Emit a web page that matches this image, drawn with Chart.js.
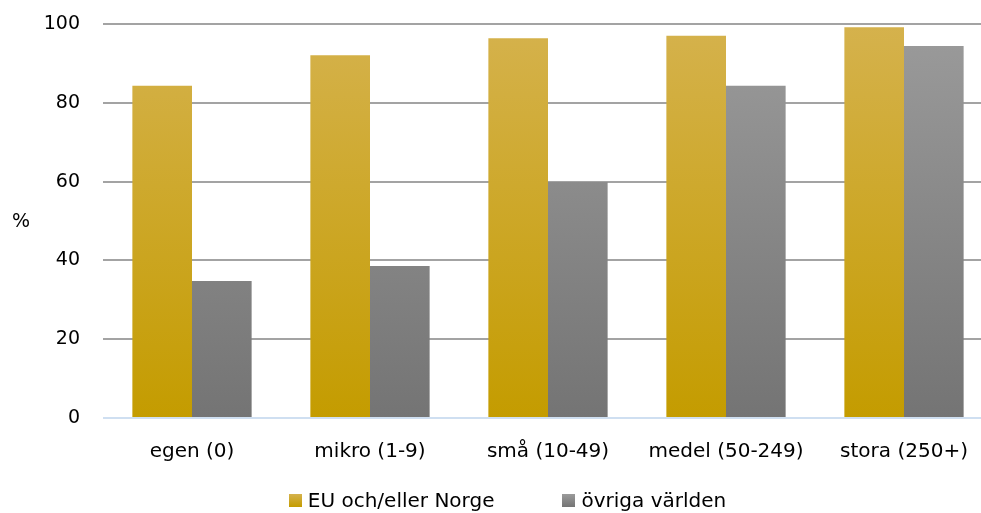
<!DOCTYPE html>
<html lang="sv">
<head>
  <meta charset="UTF-8">
  <title>Företag efter storlek</title>
  <script src="https://cdn.jsdelivr.net/npm/chart.js"></script>
  <style>
    html, body { margin: 0; padding: 0; background: #fff; overflow: hidden; }
    .wrap { position: relative; width: 981px; height: 513px; overflow: hidden; }
    #legend {
      position: absolute; left: 34px; right: 0; top: 488px;
      display: flex; justify-content: center; gap: 68px;
      font-family: "DejaVu Sans", sans-serif; font-size: 20px; color: #000;
    }
    #legend span.item { display: flex; align-items: center; }
    #legend i { display: inline-block; width: 13px; height: 13px; margin-right: 6px; }
  </style>
</head>
<body>
  <div class="wrap">
    <!-- plot runs a bit past the right edge, as in the original -->
    <canvas id="chart" width="993" height="513"></canvas>
    <div id="legend"></div>
  </div>

  <script>
    const categories = ["egen (0)", "mikro (1-9)", "små (10-49)", "medel (50-249)", "stora (250+)"];
    const seriesNames = ["EU och/eller Norge", "övriga världen"];
    const euValues = [84.3, 92.1, 96.4, 97.0, 99.2];
    const worldValues = [34.8, 38.6, 59.9, 84.3, 94.4];
    const yTicks = [0, 20, 40, 60, 80, 100];

    const fontFamily = '"DejaVu Sans", sans-serif';

    function gradient(chart, top, bottom) {
      const area = chart.chartArea;
      if (!area) return bottom;
      const g = chart.ctx.createLinearGradient(0, area.top, 0, area.bottom);
      g.addColorStop(0, top);
      g.addColorStop(1, bottom);
      return g;
    }

    // % label to the left of the y axis
    const percentLabel = {
      id: "percentLabel",
      afterDraw(chart) {
        const ctx = chart.ctx;
        ctx.save();
        ctx.font = "19px " + fontFamily;
        ctx.fillStyle = "#000";
        ctx.textAlign = "center";
        ctx.textBaseline = "middle";
        ctx.fillText("%", 21, 222);
        ctx.restore();
      }
    };

    const chart = new Chart(document.getElementById("chart"), {
      type: "bar",
      data: {
        labels: categories,
        datasets: [
          {
            label: seriesNames[0],
            data: euValues,
            backgroundColor: c => gradient(c.chart, "#d5b24d", "#c49c00"),
            barPercentage: 1,
            categoryPercentage: 0.67
          },
          {
            label: seriesNames[1],
            data: worldValues,
            backgroundColor: c => gradient(c.chart, "#9b9b9b", "#747474"),
            barPercentage: 1,
            categoryPercentage: 0.67
          }
        ]
      },
      options: {
        responsive: false,
        animation: false,
        layout: { padding: { top: 24, right: 0, bottom: 45, left: 0 } },
        plugins: {
          legend: { display: false },
          tooltip: { enabled: false }
        },
        scales: {
          x: {
            grid: { display: false },
            border: { display: false },
            ticks: { color: "#000", font: { family: fontFamily, size: 20 }, padding: 14 },
            afterFit: s => { s.height = 50; }
          },
          y: {
            min: 0,
            max: 100,
            afterBuildTicks: s => { s.ticks = yTicks.map(v => ({ value: v })); },
            afterFit: s => { s.width = 103; s.paddingTop = 0; s.paddingBottom = 0; },
            border: { display: false },
            grid: {
              drawTicks: false,
              lineWidth: 2,
              color: c => c.tick && c.tick.value === 0 ? "#cfdff1" : "#a3a3a3"
            },
            ticks: { color: "#000", font: { family: fontFamily, size: 19 }, padding: 23 }
          }
        }
      },
      plugins: [percentLabel]
    });

    const legendColors = ["linear-gradient(#d5b24d, #c49c00)", "linear-gradient(#9b9b9b, #747474)"];
    document.getElementById("legend").innerHTML = seriesNames
      .map((n, i) => `<span class="item"><i style="background:${legendColors[i]}"></i>${n}</span>`)
      .join("");
  </script>
</body>
</html>
